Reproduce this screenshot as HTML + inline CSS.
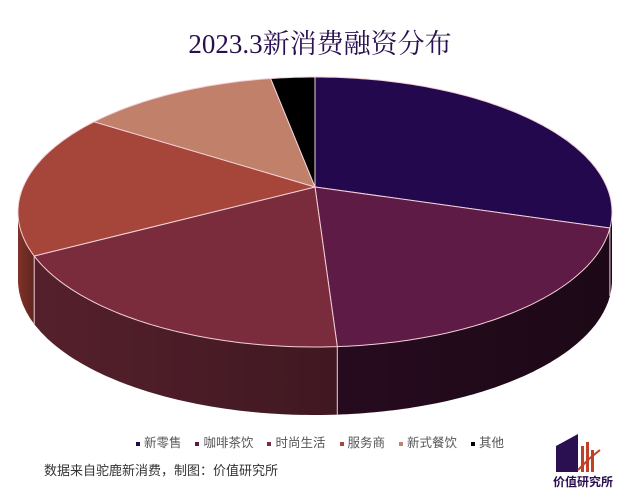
<!DOCTYPE html>
<html><head><meta charset="utf-8"><style>
body{margin:0;background:#fff;}
#wrap{position:relative;width:640px;height:496px;overflow:hidden;font-family:"Liberation Sans","Noto Sans CJK SC",sans-serif;}
#title{position:absolute;left:0;top:22px;width:640px;text-align:center;font-family:"Liberation Serif","Noto Serif CJK SC",serif;font-size:27px;color:#2a1050;}
#legend{position:absolute;left:0;top:432px;width:640px;text-align:center;font-size:12.5px;color:#555;}
.li{display:inline-block;margin:0 7px;}
.sw{display:inline-block;width:4px;height:4px;margin-right:4px;vertical-align:middle;}
#src{position:absolute;left:44px;top:460px;font-size:13px;color:#333;}
</style></head><body>
<div id="wrap">
<div id="title">2023.3新消费融资分布</div>
<svg id="pie" width="640" height="496" style="position:absolute;left:0;top:0"></svg>
<div id="legend"></div>
<div id="src">数据来自驼鹿新消费，制图：价值研究所</div>
<svg width="70" height="60" style="position:absolute;left:548px;top:432px">
<polygon points="8,14 30,2 30,40 8,40" fill="#2a1050"/>
<rect x="33" y="14" width="3" height="26" fill="#c0402a"/><rect x="38" y="10" width="3" height="30" fill="#c0402a"/><rect x="43" y="18" width="3" height="22" fill="#c0402a"/>
<polyline points="30,38 42,26 52,18" stroke="#c0402a" stroke-width="2" fill="none"/>
<text x="35" y="54" text-anchor="middle" font-size="12" font-weight="bold" fill="#2a1050" font-family="Liberation Sans,Noto Sans CJK SC,sans-serif">价值研究所</text>
</svg>
</div>
<script>
const categories=["新零售","咖啡茶饮","时尚生活","服务商","新式餐饮","其他"];
const values=[27,22,21,17,11,2.4];
const topColors=["#23084d","#5e1b45","#7a2c3c","#a6453a","#c0806a","#000000"];
const sideColors=["#1e0a26","#260b1e","#55202c","#7e3128","#8a5040","#000000"];
const NS="http://www.w3.org/2000/svg";
const svg=document.getElementById('pie');
const cx=315,cy=212,rx=297,ry=135,ax=315,ay=187,depth=68;
function pt(t,d){const r=t*Math.PI/180;return [cx+rx*Math.cos(r),cy-ry*Math.sin(r)+(d||0)];}
function arc(a,b,d){let s="";const n=Math.max(2,Math.ceil(Math.abs(a-b)));for(let i=0;i<=n;i++){const p=pt(a+(b-a)*i/n,d);s+=(i?"L":"M")+p[0].toFixed(1)+","+p[1].toFixed(1);}return s;}
const total=values.reduce((x,y)=>x+y,0);
let ang=90;const slices=[];
values.forEach((v,i)=>{const sp=v/total*360;slices.push([ang,ang-sp]);ang-=sp;});
const defs=document.createElementNS(NS,'defs');svg.appendChild(defs);
defs.innerHTML='<linearGradient id="shade" x1="0" x2="1" y1="0" y2="0"><stop offset="0" stop-color="#000" stop-opacity="0"/><stop offset="1" stop-color="#000" stop-opacity="0.25"/></linearGradient>';
// sides
slices.forEach((s,i)=>{
  const a=Math.min(s[0],0),b=Math.max(s[1],-180);
  if(a<=b)return;
  const p=document.createElementNS(NS,'path');
  const back=arc(b,a,depth).replace('M','L');
  p.setAttribute('d',arc(a,b,0)+back+"Z");
  p.setAttribute('fill',sideColors[i]);
  
  
  svg.appendChild(p);
  const g=document.createElementNS(NS,'path');
  g.setAttribute('d',arc(a,b,0)+back+"Z");g.setAttribute('fill','url(#shade)');
  
  
  svg.appendChild(g);
});
// front vertical edges
slices.forEach((s)=>{
  const t=s[1];if(t<0&&t>-180){const p0=pt(t,0);const l=document.createElementNS(NS,'line');
  l.setAttribute('x1',p0[0]);l.setAttribute('y1',p0[1]);l.setAttribute('x2',p0[0]);l.setAttribute('y2',p0[1]+depth);
  l.setAttribute('stroke','#f2d0d8');l.setAttribute('stroke-width','1');
  
  
  svg.appendChild(l);}
});
// tops
slices.forEach((s,i)=>{
  const p=document.createElementNS(NS,'path');
  p.setAttribute('d',"M"+ax+","+ay+arc(s[0],s[1],0).replace('M','L')+"Z");
  p.setAttribute('fill',topColors[i]);p.setAttribute('stroke','#f2d0d8');p.setAttribute('stroke-width','1');
  
  
  svg.appendChild(p);
});
const lg=document.getElementById('legend');
categories.forEach((c,i)=>{
  const s=document.createElement('span');s.className='li';
  
  
  s.innerHTML='<span class="sw" style="background:'+topColors[i]+'"></span>'+c;
  lg.appendChild(s);
});
</script>
</body></html>
